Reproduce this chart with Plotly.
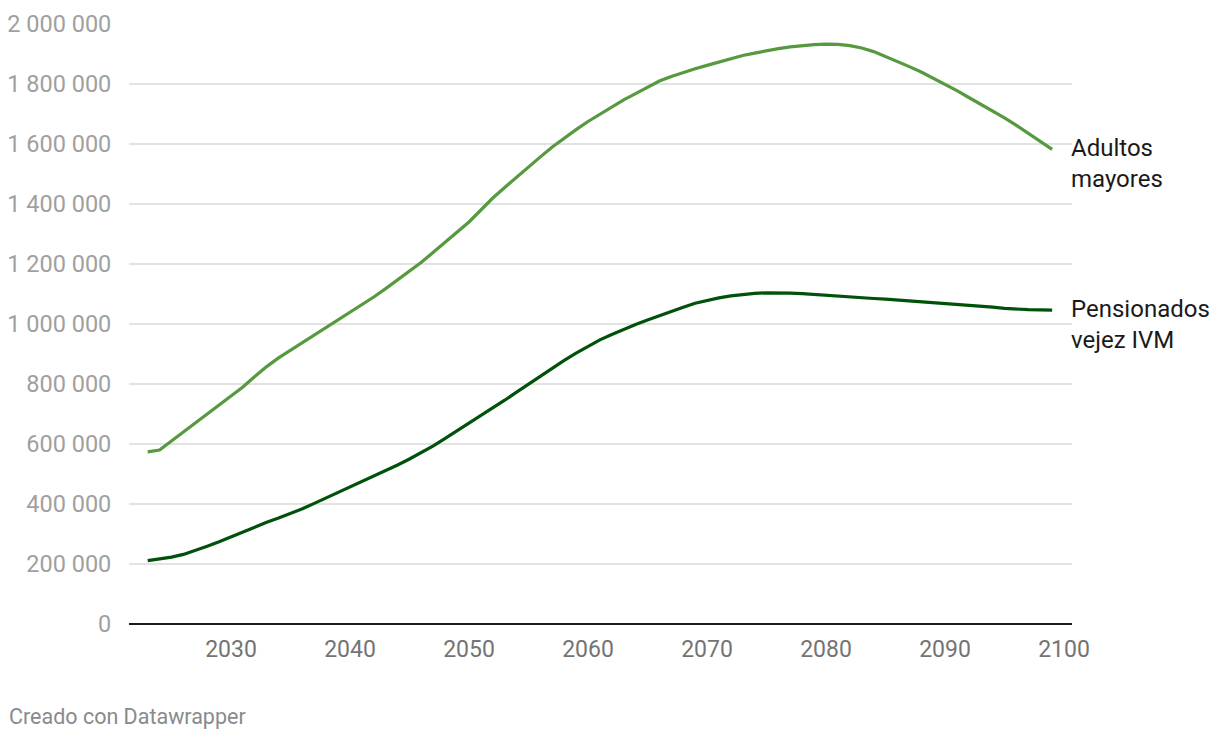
import plotly.graph_objects as go

years = list(range(2023, 2100))

adultos_mayores = [
    574000, 580000, 610000, 640000, 668000, 698000, 728000, 758000, 790000, 825000,
    858000, 887000, 912000, 937000, 962000, 990000, 1015000, 1040000, 1064000, 1090000,
    1118000, 1147000, 1176000, 1206000, 1239000, 1272000, 1305000, 1340000, 1380000, 1420000,
    1455000, 1490000, 1525000, 1557000, 1590000, 1620000, 1648000, 1675000, 1700000, 1725000,
    1747000, 1768000, 1790000, 1810000, 1825000, 1839000, 1851000, 1862000, 1873000, 1884000,
    1895000, 1903000, 1911000, 1918000, 1924000, 1928000, 1931000, 1933000, 1932000, 1928000,
    1920000, 1908000, 1892000, 1875000, 1858000, 1840000, 1820000, 1800000, 1778000, 1755000,
    1733000, 1710000, 1687000, 1662000, 1636000, 1610000, 1582000,
]

pensionados_ivm = [
    211000, 216000, 223000, 232000, 245000, 259000, 274000, 290000, 306000, 324000,
    339000, 353000, 368000, 384000, 402000, 420000, 440000, 458000, 475000, 493000,
    511000, 530000, 550000, 571000, 594000, 619000, 644000, 669000, 694000, 720000,
    746000, 773000, 800000, 827000, 853000, 879000, 903000, 926000, 947000, 965000,
    982000, 998000, 1013000, 1028000, 1042000, 1056000, 1069000, 1079000, 1087000, 1094000,
    1099000, 1102000, 1104000, 1104000, 1103000, 1101000, 1098000, 1095000, 1092000, 1090000,
    1088000, 1085000, 1083000, 1080000, 1078000, 1075000, 1072000, 1070000, 1067000, 1064000,
    1060000, 1056000, 1052000, 1049000, 1048000, 1047000, 1046000,
]

series_names = ["Adultos<br>mayores", "Pensionados<br>vejez IVM"]
series_colors = ["#56993f", "#00520a"]

y_tickvals = [0, 200000, 400000, 600000, 800000, 1000000, 1200000, 1400000, 1600000, 1800000, 2000000]
y_ticktext = ["0", "200 000", "400 000", "600 000", "800 000", "1 000 000", "1 200 000",
              "1 400 000", "1 600 000", "1 800 000", "2 000 000"]
x_tickvals = [2030, 2040, 2050, 2060, 2070, 2080, 2090, 2100]

fig = go.Figure()
for name, vals, col in zip(series_names, [adultos_mayores, pensionados_ivm], series_colors):
    fig.add_trace(go.Scatter(x=years, y=vals, mode="lines", name=name,
                             line=dict(color=col, width=3.2), hoverinfo="skip"))
    fig.add_annotation(x=1, xref="paper", y=vals[-1], yref="y", text=name,
                       showarrow=False, xanchor="left", yanchor="middle", align="left",
                       xshift=-3, yshift=-14,
                       font=dict(family="Roboto", size=24, color="#1a1a1a"))

fig.add_annotation(x=0, xref="paper", xanchor="left", y=0, yref="paper",
                   text="Creado con Datawrapper", showarrow=False, yanchor="middle",
                   xshift=-122, yshift=-92,
                   font=dict(family="Roboto", size=21.5, color="#8a8a8a"))

fig.update_layout(
    width=1212, height=732,
    margin=dict(l=121, r=148, t=16, b=116, autoexpand=False),
    paper_bgcolor="white", plot_bgcolor="white",
    showlegend=False,
    font=dict(family="Roboto"),
    xaxis=dict(range=[2021.43, 2100.67], tickvals=x_tickvals, showgrid=False,
               zeroline=False, showline=False, ticks="outside", ticklen=4,
               tickcolor="rgba(0,0,0,0)",
               tickfont=dict(family="Roboto", size=23, color="#747474")),
    yaxis=dict(range=[0, 2000000], tickvals=y_tickvals, ticktext=y_ticktext,
               showgrid=True, gridcolor="#e3e3e3", gridwidth=1.5,
               zeroline=True, zerolinecolor="#1a1a1a", zerolinewidth=2,
               showline=False, ticks="outside", ticklen=12, tickcolor="rgba(0,0,0,0)",
               tickfont=dict(family="Roboto", size=23.5, color="#a0a0a0")),
)

fig.write_html("out.html")
